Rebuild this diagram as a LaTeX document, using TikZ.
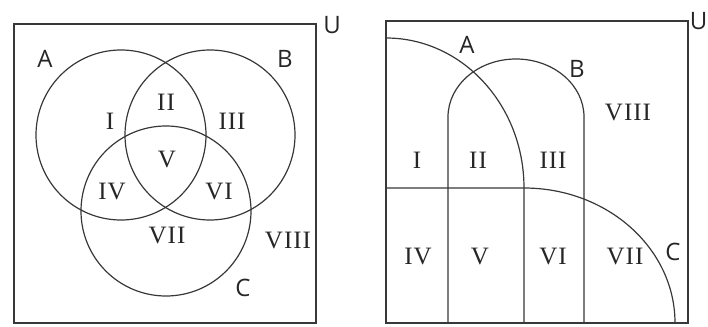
\documentclass[tikz,border=0pt]{standalone}
\usepackage{fontspec}
\newfontfamily\lblfont{Open Sans}
\newfontfamily\numfont[LetterSpace=4]{Liberation Serif}
\begin{document}
\begin{tikzpicture}[x=1pt,y=-1pt,
  ln/.style={draw=black!78,line width=1.2pt},
  num/.style={font=\numfont\fontsize{25}{25}\selectfont,text=black!85,inner sep=0pt},
  setl/.style={font=\lblfont\fontsize{24}{24}\selectfont,text=black!85,inner sep=0pt}]
\useasboundingbox (0,0) rectangle (708,326);
% ---------- left panel ----------
\draw[ln] (14,24) rectangle (316,323);
\draw[ln] (121,135) circle[radius=85pt];
\draw[ln] (210,135) circle[radius=85pt];
\draw[ln] (166,211) circle[radius=85pt];
\node[setl] (lA) at (45,59) {A};
\node[setl] (lB) at (285,59) {B};
\node[setl] (lC) at (243,288) {C};
\node[setl] (lU) at (332,25) {U};
\node[num] (l1) at (110,121) {I};
\node[num] (l2) at (166,102) {II};
\node[num] (l3) at (232,121) {III};
\node[num] (l5) at (167,160) {V};
\node[num] (l4) at (112,192) {IV};
\node[num] (l6) at (219,192) {VI};
\node[num] (l7) at (167,236) {VII};
\node[num] (l8) at (288,241) {VIII};
% ---------- right panel ----------
\draw[ln] (386,21) rectangle (688,323);
\draw[ln] (386,38) arc[start angle=90,end angle=0,x radius=138pt,y radius=150pt] -- (524,323);
\draw[ln] (386,188) -- (524,188) arc[start angle=90,end angle=0,x radius=151pt,y radius=135pt];
\draw[ln] (448,323) -- (448,117) arc[start angle=180,end angle=0,x radius=68pt,y radius=58pt] -- (584,323);
\node[setl] (rA) at (467,45) {A};
\node[setl] (rB) at (577,69) {B};
\node[setl] (rC) at (673,252) {C};
\node[setl,anchor=east] (rU) at (707.5,21) {U};
\node[num] (r1) at (417,160) {I};
\node[num] (r2) at (478,160) {II};
\node[num] (r3) at (553,160) {III};
\node[num] (r8) at (628,113) {VIII};
\node[num] (r4) at (418,257) {IV};
\node[num] (r5) at (480,257) {V};
\node[num] (r6) at (553,257) {VI};
\node[num] (r7) at (625,257) {VII};
\end{tikzpicture}
\end{document}
